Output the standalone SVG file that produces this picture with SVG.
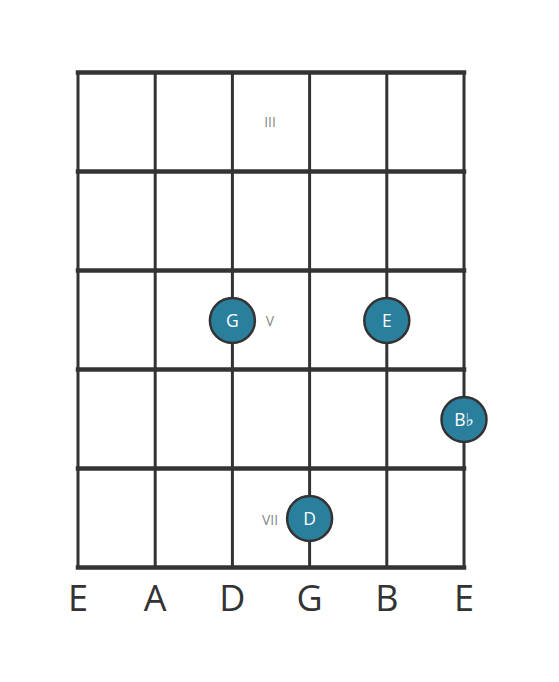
<svg xmlns="http://www.w3.org/2000/svg" width="559" height="682" viewBox="0 0 559 682">
<style>
.fret{stroke:#333;stroke-width:4.5;stroke-linecap:square}
.str{stroke:#333;stroke-width:3}
.dot{fill:#2a7f9c;stroke:#333;stroke-width:2.5}
.nt{font-family:"Open Sans","DejaVu Sans",sans-serif;font-size:17.5px;fill:#fff;text-anchor:middle}
.fl{font-family:"Open Sans","DejaVu Sans",sans-serif;font-size:14px;fill:#888;text-anchor:middle}
.sl{font-family:"Open Sans","DejaVu Sans",sans-serif;font-size:36px;fill:#333;text-anchor:middle}
</style>
<rect width="559" height="682" fill="#fff"/>
<g id="grid">
<line class="str" x1="78" y1="72" x2="78" y2="568"/>
<line class="str" x1="155.2" y1="72" x2="155.2" y2="568"/>
<line class="str" x1="232.4" y1="72" x2="232.4" y2="568"/>
<line class="str" x1="309.6" y1="72" x2="309.6" y2="568"/>
<line class="str" x1="386.8" y1="72" x2="386.8" y2="568"/>
<line class="str" x1="464" y1="72" x2="464" y2="568"/>
<line class="fret" x1="78" y1="72.5" x2="464" y2="72.5"/>
<line class="fret" x1="78" y1="171.5" x2="464" y2="171.5"/>
<line class="fret" x1="78" y1="270.5" x2="464" y2="270.5"/>
<line class="fret" x1="78" y1="369.5" x2="464" y2="369.5"/>
<line class="fret" x1="78" y1="468.5" x2="464" y2="468.5"/>
<line class="fret" x1="78" y1="567.5" x2="464" y2="567.5"/>
</g>
<g id="fret-labels">
<text class="fl" x="270" y="126.5">III</text>
<text class="fl" x="270" y="326">V</text>
<text class="fl" x="270" y="525">VII</text>
</g>
<g id="note-G">
<circle class="dot" cx="232.4" cy="320.5" r="22.5"/>
<text class="nt" x="232.4" y="326.5">G</text>
</g>
<g id="note-E">
<circle class="dot" cx="386.8" cy="320.5" r="22.5"/>
<text class="nt" x="386.8" y="326.5">E</text>
</g>
<g id="note-Bb">
<circle class="dot" cx="464" cy="419.5" r="22.5"/>
<text class="nt" x="464" y="425.5">B♭</text>
</g>
<g id="note-D">
<circle class="dot" cx="309.6" cy="518.5" r="22.5"/>
<text class="nt" x="309.6" y="524.5">D</text>
</g>
<g id="string-labels">
<text class="sl" x="78" y="611">E</text>
<text class="sl" x="155.2" y="611">A</text>
<text class="sl" x="232.4" y="611">D</text>
<text class="sl" x="309.6" y="611">G</text>
<text class="sl" x="386.8" y="611">B</text>
<text class="sl" x="464" y="611">E</text>
</g>
</svg>
